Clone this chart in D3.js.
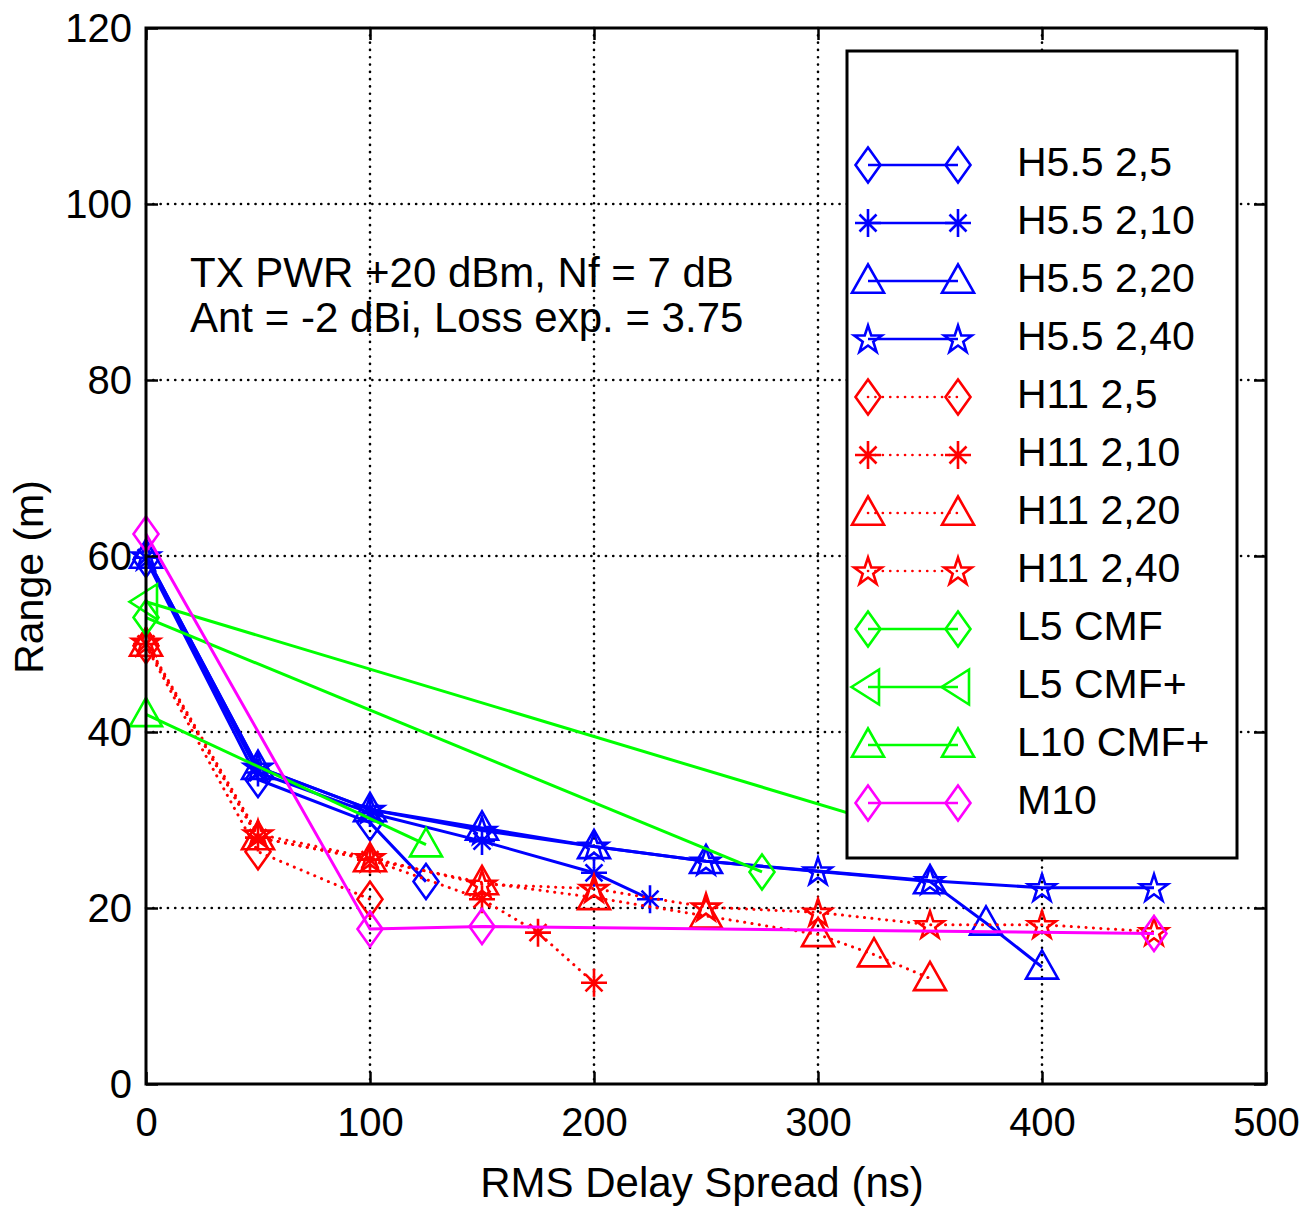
<!DOCTYPE html>
<html>
<head>
<meta charset="utf-8">
<script src="https://cdn.jsdelivr.net/npm/d3@7/dist/d3.min.js"></script>
<style>
  html, body { margin: 0; padding: 0; background: #fff; }
  svg { display: block; }
  text { font-family: "Liberation Sans", Arial, Helvetica, sans-serif; fill: #000; }
</style>
</head>
<body>
<svg id="chart" width="1305" height="1206"></svg>
<script>
// ---------------- DATA ----------------
const xTicks = [0, 100, 200, 300, 400, 500];
const yTicks = [0, 20, 40, 60, 80, 100, 120];
const xLabel = "RMS Delay Spread (ns)";
const yLabel = "Range (m)";
const noteLines = ["TX PWR +20 dBm, Nf = 7 dB", "Ant = -2 dBi, Loss exp. = 3.75"];

const seriesNames = ["H5.5 2,5", "H5.5 2,10", "H5.5 2,20", "H5.5 2,40",
  "H11 2,5", "H11 2,10", "H11 2,20", "H11 2,40",
  "L5 CMF", "L5 CMF+", "L10 CMF+", "M10"];
const seriesColors = ["#0000ff", "#0000ff", "#0000ff", "#0000ff",
  "#ff0000", "#ff0000", "#ff0000", "#ff0000",
  "#00ff00", "#00ff00", "#00ff00", "#ff00ff"];
const seriesMarkers = ["diamond", "asterisk", "triangle", "star",
  "diamond", "asterisk", "triangle", "star",
  "diamond", "triangleLeft", "triangle", "diamond"];
const seriesDotted = [false, false, false, false, true, true, true, true, false, false, false, false];

const h55_2_5_x  = [0, 50, 100, 125];
const h55_2_5_y  = [59.6, 34.6, 29.7, 23.0];
const h55_2_10_x = [0, 50, 100, 150, 200, 225];
const h55_2_10_y = [59.8, 35.4, 30.8, 27.6, 24.0, 21.0];
const h55_2_20_x = [0, 50, 100, 150, 200, 250, 350, 375, 400];
const h55_2_20_y = [60.0, 36.0, 31.2, 29.1, 27.0, 25.3, 23.0, 18.3, 13.3];
const h55_2_40_x = [0, 50, 100, 150, 200, 250, 300, 350, 400, 450];
const h55_2_40_y = [60.0, 36.0, 31.2, 28.8, 27.0, 25.3, 24.2, 23.1, 22.3, 22.3];

const h11_2_5_x  = [0, 50, 100];
const h11_2_5_y  = [49.8, 26.4, 21.0];
const h11_2_10_x = [0, 50, 100, 150, 175, 200];
const h11_2_10_y = [50.0, 28.0, 25.5, 21.0, 17.2, 11.5];
const h11_2_20_x = [0, 50, 100, 150, 200, 250, 300, 325, 350];
const h11_2_20_y = [50.0, 28.0, 25.5, 22.9, 21.2, 19.1, 17.0, 14.7, 12.0];
const h11_2_40_x = [0, 50, 100, 150, 200, 250, 300, 350, 400, 450];
const h11_2_40_y = [50.2, 28.4, 25.7, 22.7, 22.2, 20.1, 19.5, 18.1, 18.1, 17.3];

const l5cmf_x   = [0, 275];
const l5cmf_y   = [53.0, 24.1];
const l5cmfp_x  = [0, 350];
const l5cmfp_y  = [54.8, 28.0];
const l10cmfp_x = [0, 125];
const l10cmfp_y = [42.0, 27.2];
const m10_x     = [0, 100, 150, 450];
const m10_y     = [62.5, 17.6, 17.9, 17.1];

const seriesX = [h55_2_5_x, h55_2_10_x, h55_2_20_x, h55_2_40_x,
  h11_2_5_x, h11_2_10_x, h11_2_20_x, h11_2_40_x,
  l5cmf_x, l5cmfp_x, l10cmfp_x, m10_x];
const seriesY = [h55_2_5_y, h55_2_10_y, h55_2_20_y, h55_2_40_y,
  h11_2_5_y, h11_2_10_y, h11_2_20_y, h11_2_40_y,
  l5cmf_y, l5cmfp_y, l10cmfp_y, m10_y];

// ---------------- LAYOUT ----------------
const PL = 146, PR = 1266, PT = 28, PB = 1084;
const svg = d3.select("#chart");
const xs = d3.scaleLinear().domain([0, 500]).range([PL, PR]);
const ys = d3.scaleLinear().domain([0, 120]).range([PB, PT]);

function markerPath(type, cx, cy) {
  const p = d3.path();
  if (type === "diamond") {
    p.moveTo(cx, cy - 17.5); p.lineTo(cx + 12.5, cy); p.lineTo(cx, cy + 17.5); p.lineTo(cx - 12.5, cy); p.closePath();
  } else if (type === "triangle") {
    p.moveTo(cx, cy - 16.5); p.lineTo(cx + 16, cy + 11.7); p.lineTo(cx - 16, cy + 11.7); p.closePath();
  } else if (type === "triangleLeft") {
    p.moveTo(cx - 16.5, cy); p.lineTo(cx + 11, cy - 17.5); p.lineTo(cx + 11, cy + 17.5); p.closePath();
  } else if (type === "asterisk") {
    p.moveTo(cx - 13, cy); p.lineTo(cx + 13, cy);
    p.moveTo(cx, cy - 14); p.lineTo(cx, cy + 14);
    p.moveTo(cx - 8.5, cy - 8.5); p.lineTo(cx + 8.5, cy + 8.5);
    p.moveTo(cx - 8.5, cy + 8.5); p.lineTo(cx + 8.5, cy - 8.5);
  } else if (type === "star") {
    const Ro = 14.5, Ri = Ro * 0.382;
    for (let k = 0; k < 10; k++) {
      const r = k % 2 === 0 ? Ro : Ri;
      const a = -Math.PI / 2 + k * Math.PI / 5;
      const px = cx + r * Math.cos(a), py = cy + 1 + r * Math.sin(a);
      if (k === 0) p.moveTo(px, py); else p.lineTo(px, py);
    }
    p.closePath();
  }
  return p.toString();
}

// ---------------- GRID ----------------
const grid = svg.append("g");
xTicks.filter(t => t > 0 && t < 500).forEach(t => {
  grid.append("line").attr("x1", xs(t)).attr("x2", xs(t)).attr("y1", PT).attr("y2", PB)
    .attr("stroke", "#000").attr("stroke-width", 2.6).attr("stroke-linecap", "round")
    .attr("stroke-dasharray", "0.1,7.2");
});
yTicks.filter(t => t > 0 && t < 120).forEach(t => {
  grid.append("line").attr("x1", PL).attr("x2", PR).attr("y1", ys(t)).attr("y2", ys(t))
    .attr("stroke", "#000").attr("stroke-width", 2.6).attr("stroke-linecap", "round")
    .attr("stroke-dasharray", "0.1,7.2");
});

// ---------------- SERIES ----------------
const lineGen = d3.line().x(d => xs(d[0])).y(d => ys(d[1]));
const dataG = svg.append("g");
seriesNames.forEach((name, i) => {
  const pts = seriesX[i].map((v, j) => [v, seriesY[i][j]]);
  const g = dataG.append("g");
  g.append("path").attr("d", lineGen(pts)).attr("fill", "none")
    .attr("stroke", seriesColors[i]).attr("stroke-width", 3)
    .attr("stroke-linecap", seriesDotted[i] ? "round" : "butt")
    .attr("stroke-linejoin", "round")
    .attr("stroke-dasharray", seriesDotted[i] ? "0.1,7.3" : null);
  pts.forEach(d => {
    g.append("path").attr("d", markerPath(seriesMarkers[i], xs(d[0]), ys(d[1])))
      .attr("fill", "none").attr("stroke", seriesColors[i]).attr("stroke-width", 2.6);
  });
});

// ---------------- AXES ----------------
const axG = svg.append("g").attr("class", "axes");
const axBottom = axG.append("g").attr("transform", `translate(0,${PB})`)
  .call(d3.axisBottom(xs).tickValues(xTicks).tickSize(-12).tickPadding(24).tickFormat(d3.format("d")));
const axTop = axG.append("g").attr("transform", `translate(0,${PT})`)
  .call(d3.axisTop(xs).tickValues(xTicks).tickSize(-12).tickFormat(""));
const axLeft = axG.append("g").attr("transform", `translate(${PL},0)`)
  .call(d3.axisLeft(ys).tickValues(yTicks).tickSize(-12).tickPadding(14).tickFormat(d3.format("d")));
const axRight = axG.append("g").attr("transform", `translate(${PR},0)`)
  .call(d3.axisRight(ys).tickValues(yTicks).tickSize(-12).tickFormat(""));
axG.selectAll(".domain").remove();
axG.selectAll(".tick line").attr("stroke", "#000").attr("stroke-width", 2.5);
axG.selectAll(".tick text").style("font-size", "40px").attr("fill", "#000")
  .style("font-family", '"Liberation Sans", Arial, sans-serif');
axLeft.selectAll(".tick text").attr("dy", "0.34em");
axG.append("rect").attr("x", PL).attr("y", PT).attr("width", PR - PL).attr("height", PB - PT)
  .attr("fill", "none").attr("stroke", "#000").attr("stroke-width", 3);

svg.append("text").attr("x", 702).attr("y", 1197).attr("text-anchor", "middle")
  .style("font-size", "42px").text(xLabel);
svg.append("text").attr("transform", "translate(43,577) rotate(-90)").attr("text-anchor", "middle")
  .style("font-size", "41px").text(yLabel);

noteLines.forEach((t, i) => {
  svg.append("text").attr("x", 190).attr("y", 287 + i * 45).style("font-size", "42px").text(t);
});

// ---------------- LEGEND ----------------
const leg = svg.append("g");
leg.append("rect").attr("x", 847).attr("y", 51).attr("width", 390).attr("height", 807)
  .attr("fill", "#fff").attr("stroke", "#000").attr("stroke-width", 3);
seriesNames.forEach((name, i) => {
  const ly = 165 + i * 58;
  leg.append("line").attr("x1", 868).attr("x2", 958).attr("y1", ly).attr("y2", ly)
    .attr("stroke", seriesColors[i]).attr("stroke-width", 2.6)
    .attr("stroke-linecap", seriesDotted[i] ? "round" : "butt")
    .attr("stroke-dasharray", seriesDotted[i] ? "0.1,7.3" : null);
  [868, 958].forEach(mx => {
    leg.append("path").attr("d", markerPath(seriesMarkers[i], mx, ly))
      .attr("fill", "none").attr("stroke", seriesColors[i]).attr("stroke-width", 2.6);
  });
  leg.append("text").attr("x", 1017).attr("y", ly + 11).style("font-size", "41px").text(name);
});
</script>
</body>
</html>
